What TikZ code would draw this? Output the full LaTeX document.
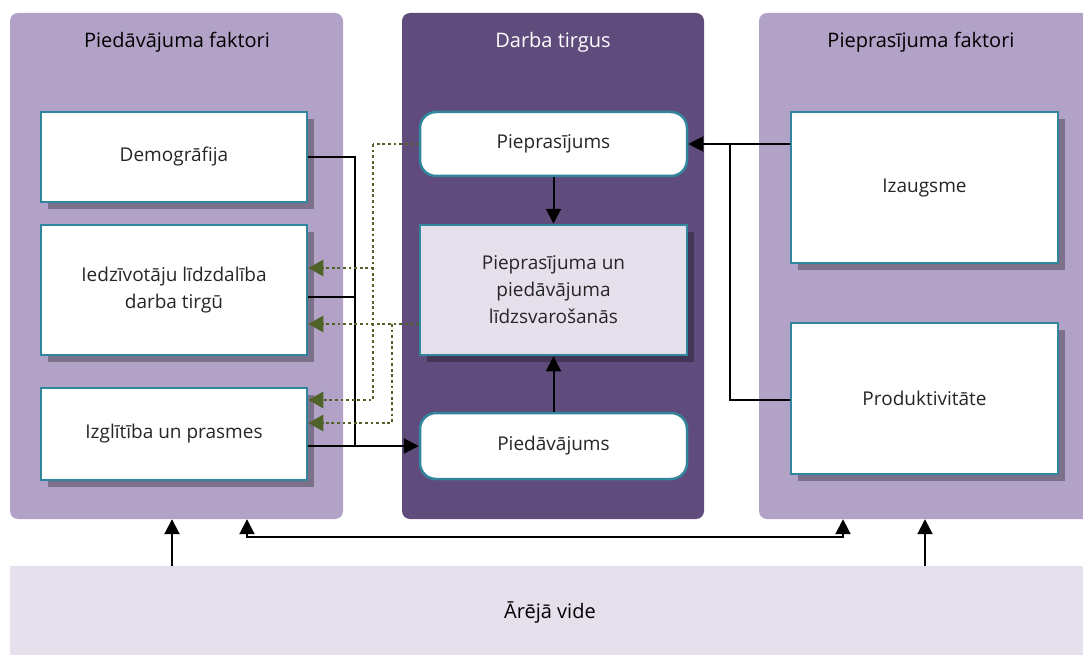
\documentclass[tikz,border=0pt]{standalone}
\usepackage{fontspec}
\setmainfont{Open Sans}
\usetikzlibrary{arrows.meta,shadows,calc}
\definecolor{lpanel}{HTML}{B3A2C7}
\definecolor{dpanel}{HTML}{604C7C}
\definecolor{envfill}{HTML}{E5E0EC}
\definecolor{teal}{HTML}{31859C}
\definecolor{olive}{HTML}{4F6228}
\definecolor{txt}{HTML}{262626}
\tikzset{
  panel/.style={rounded corners=8pt, draw=none, inner sep=0pt},
  ttl/.style={font=\fontsize{20}{24}\selectfont, text=black},
  fbox/.style={draw=teal, line width=2.5pt, fill=white, inner sep=4pt, align=center,
    text=txt, font=\fontsize{19}{27}\selectfont, minimum width=266pt,
    drop shadow={shadow xshift=7pt, shadow yshift=-7pt, opacity=0.3, fill=black}},
  rbox/.style={draw=teal, line width=2.5pt, fill=white, rounded corners=16pt, inner sep=4pt,
    align=center, text=txt, font=\fontsize{19}{27}\selectfont, minimum width=267pt},
  conn/.style={line width=2pt, black},
  arr/.style={conn, -{Triangle[length=15pt,width=15pt]}},
  dots/.style={line width=2.6pt, olive, dash pattern=on 2.8pt off 2.8pt},
  garr/.style={dots, -{Triangle[length=15pt,width=16pt,fill=olive]}},
}
\begin{document}
\begin{tikzpicture}[x=1pt,y=-1pt]
\useasboundingbox (0,0) rectangle (1083,655);
\clip (0,0) rectangle (1083,655);
% panels
\node[panel, fill=lpanel, minimum width=333pt, minimum height=506pt] (lp) at (176.5,266) {};
\node[panel, fill=dpanel, minimum width=302pt, minimum height=506pt] (mp) at (553,266) {};
\node[panel, fill=lpanel, minimum width=340pt, minimum height=506pt] (rp) at (929,266) {};
\node[fill=envfill, minimum width=1080pt, minimum height=95pt, inner sep=0pt] (env) at (550,613.5) {};
\node[ttl] at (550,613) {Ārējā vide};
% titles
\node[ttl] (lt) at (177,42) {Piedāvājuma faktori};
\node[ttl, text=white] (mt) at (553,42) {Darba tirgus};
\node[ttl] (rt) at (921,42) {Pieprasījuma faktori};
% left boxes
\node[fbox, minimum height=90pt] (demo) at (174,157) {Demogrāfija};
\node[fbox, minimum height=130pt] (iedz) at (174,290) {Iedzīvotāju līdzdalība\\darba tirgū};
\node[fbox, minimum height=92pt] (izgl) at (174,434) {Izglītība un prasmes};
% middle boxes
\node[rbox, minimum height=64pt] (piepr) at (553.5,144) {Pieprasījums};
\node[fbox, fill=envfill, minimum width=267pt, minimum height=130pt] (lidz) at (553.5,290) {Pieprasījuma un\\piedāvājuma\\līdzsvarošanās};
\node[rbox, minimum height=66pt] (piedav) at (553.5,446) {Piedāvājums};
% right boxes
\node[fbox, minimum width=267pt, minimum height=151pt] (izaug) at (924.5,187.5) {Izaugsme};
\node[fbox, minimum width=267pt, minimum height=151pt] (prod) at (924.5,398.5) {Produktivitāte};
% coordinates
\coordinate (jl) at (355,446);
\coordinate (gv1) at (373,144);
\coordinate (gv2) at (392,324);
\coordinate (jr) at (730,144);
% black connectors left
\draw[conn] (demo.east) -| (jl);
\draw[conn] ($(iedz.east)+(0,7)$) -| (jl);
\draw[arr] (izgl.east |- piedav.west) -- (piedav.west);
% green dotted
\draw[dots] (piepr.west) -- (gv1);
\draw[garr] (gv1) |- ($(iedz.east)+(0,-22)$);
\draw[garr] (gv1) |- ($(izgl.east)+(0,-34)$);
\draw[garr] (lidz.west |- gv2) -- ($(iedz.east)+(0,34)$);
\draw[garr] (gv2) |- ($(izgl.east)+(0,-11)$);
% middle arrows
\draw[arr] (piepr.south) -- (lidz.north);
\draw[arr] (piedav.north) -- (lidz.south);
% right connectors
\draw[arr] (izaug.west |- piepr.east) -- (piepr.east);
\draw[conn] (jr) |- ($(prod.west)+(0,1.5)$);
% bottom arrows
\draw[arr] (env.north -| 172,0) -- (lp.south -| 172,0);
\draw[arr] (env.north -| 925,0) -- (rp.south -| 925,0);
\coordinate (bl) at (247,537);
\coordinate (br) at (843,537);
\draw[conn, {Triangle[length=15pt,width=15pt]}-{Triangle[length=15pt,width=15pt]}] (lp.south -| bl) -- (bl) -- (br) -- (rp.south -| br);
\end{tikzpicture}
\end{document}
